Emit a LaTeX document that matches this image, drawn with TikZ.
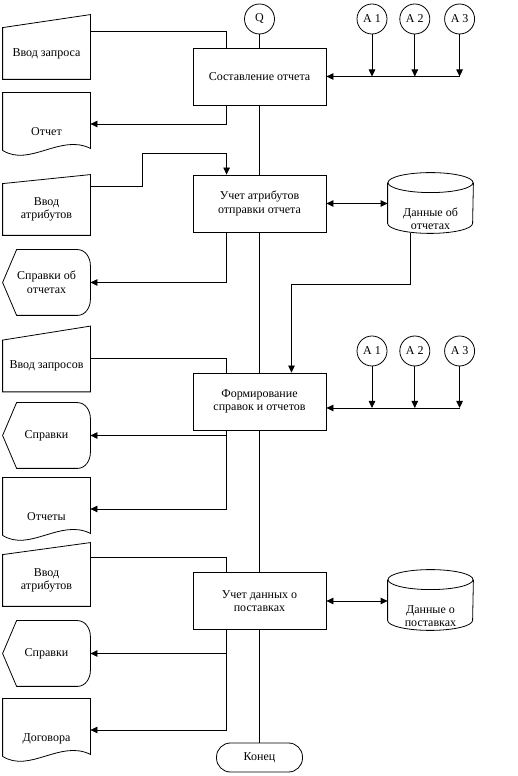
\documentclass[tikz,border=0pt]{standalone}
\usepackage{fontspec}
\setmainfont{Liberation Serif}
\usetikzlibrary{calc,positioning,arrows.meta}

\begin{document}
\begin{tikzpicture}[x=1pt,y=1pt,line width=0.8pt,font=\fontsize{12}{13.5}\selectfont]
\tikzset{proc/.style={draw,fill=white,minimum width=133pt,minimum height=57pt,align=center,inner sep=2pt},
  conn/.style={circle,draw,minimum size=30pt,inner sep=0pt},
  inp/.style={minimum width=87pt,minimum height=51pt,align=center,inner sep=0.5pt},
  doc/.style={minimum width=87pt,minimum height=62pt,text height=25pt,text depth=2pt,inner sep=1pt},
  disp/.style={minimum width=87pt,minimum height=65pt,align=center,inner sep=1pt},
  dbase/.style={minimum width=85pt,minimum height=40pt,align=center,inner sep=1pt},
  term/.style={draw,rounded corners=14pt,minimum width=86pt,minimum height=29pt},
  arr/.style={-{Triangle[length=7pt,width=6.5pt]}},
  darr/.style={{Triangle[length=7pt,width=6.5pt]}-{Triangle[length=7pt,width=6.5pt]}}}
\useasboundingbox (0,0) rectangle (518,776);
% process column
\node[conn] (q) at (259.5,757) {Q};
\node[proc] (box1) at (259.5,699.5) {Составление отчета};
\node[proc] (box2) at (259.5,572.5) {Учет атрибутов\\отправки отчета};
\node[proc] (box3) at (259.5,374.5) {Формирование\\справок и отчетов};
\node[proc] (box4) at (259.5,175) {Учет данных о\\поставках};
\node[term] (end) at (259.5,18.5) {Конец};
% connectors A
\node[conn] (a1) at (372,757) {A 1};
\node[conn,right=12pt of a1] (a2) {A 2};
\node[conn,right=14pt of a2] (a3) {A 3};
\node[conn] (c1) at (372,425) {A 1};
\node[conn,right=12pt of c1] (c2) {A 2};
\node[conn,right=14pt of c2] (c3) {A 3};
% left column
\node[inp] (in1) at (46.5,722.5) {Ввод запроса};
\node[doc] (doc1) at (46.5,652) {Отчет};
\node[inp] (in2) at (46.5,566.5) {Ввод\\атрибутов};
\node[disp] (sp1) at (46.5,493.5) {Справки об\\отчетах};
\node[inp] (in3) at (46.5,410) {Ввод запросов};
\node[disp] (sp2) at (46.5,340.5) {Справки};
\node[doc] (doc2) at (46.5,267) {Отчеты};
\node[inp] (in4) at (46.5,195.5) {Ввод\\атрибутов};
\node[disp] (sp3) at (46.5,122.5) {Справки};
\node[doc] (doc3) at (46.5,46) {Договора};
% data stores
\node[dbase] (db1) at (430.5,557) {Данные об\\отчетах};
\node[dbase] (db2) at (430.5,160) {Данные о\\поставках};
% outlines
\foreach \n/\s in {in1/13,in2/9,in3/14,in4/12}
  \draw (\n.south west) -- (\n.north west) -- ([yshift=\s pt]\n.north east) -- (\n.south east) -- cycle;
\foreach \n in {doc1,doc2,doc3}
  \draw ([yshift=5pt]\n.south west) -- (\n.north west) -- (\n.north east) -- ([yshift=7pt]\n.south east)
    .. controls +(-30pt,15pt) and +(27pt,-17pt) .. ([yshift=5pt]\n.south west);
\foreach \n in {sp1,sp2,sp3}
  \draw (\n.west) -- ([xshift=14pt]\n.north west) -- ([xshift=-13pt]\n.north east) to[out=0,in=90] ([yshift=-16pt]\n.north east)
    -- ([yshift=16pt]\n.south east) to[out=-90,in=0] ([xshift=-13pt]\n.south east) -- ([xshift=14pt]\n.south west) -- cycle;
\foreach \n in {db1,db2} {
  \draw ([yshift=16pt]\n.north west) -- ([yshift=16pt]\n.south west) arc[start angle=180,end angle=360,x radius=42.5pt,y radius=10pt] -- ([yshift=16pt]\n.north east);
  \draw ([yshift=16pt]\n.north) ellipse[x radius=42.5pt,y radius=10pt];
}
% flow
\draw (q) -- (box1) -- (box2) -- (box3) -- (box4) -- (end);
\foreach \a in {a1,a2,a3} \draw[arr] (\a) -- (\a |- box1.east);
\draw[arr] (a3 |- box1.east) -- (box1.east);
\coordinate (h3) at ([yshift=-6.5pt]box3.east);
\foreach \a in {c1,c2,c3} \draw[arr] (\a) -- (\a |- h3);
\draw[arr] (c3 |- h3) -- (h3);
\draw ([yshift=-4pt]in1.north east) -| ([xshift=34pt]box1.north west);
\draw[arr] ([yshift=-3pt]in2.north east) -| ++(52pt,33pt) -| ([xshift=34pt]box2.north west);
\draw ([yshift=-18pt]in3.north east) -| ([xshift=34pt]box3.north west);
\draw ([yshift=-3pt]in4.north east) -| ([xshift=34pt]box4.north west);
\draw[arr] ([xshift=34pt]box1.south west) |- (doc1.east);
\draw[arr] ([xshift=34pt]box2.south west) |- (sp1.east);
\draw[arr] ([xshift=34pt]box3.south west) |- (sp2.east);
\draw[arr] ([xshift=34pt]box3.south west) |- (doc2.east);
\draw[arr] ([xshift=34pt]box4.south west) |- (sp3.east);
\draw[arr] ([xshift=34pt]box4.south west) |- (doc3.east);
\draw[darr] (box2.east) -- (box2.east -| db1.west);
\draw[darr] (box4.east) -- (box4.east -| db2.west);
\draw[arr] ([xshift=-20.5pt,yshift=6pt]db1.south) -- ++(0,-51pt) -| ([xshift=32pt]box3.north);
\end{tikzpicture}
\end{document}
